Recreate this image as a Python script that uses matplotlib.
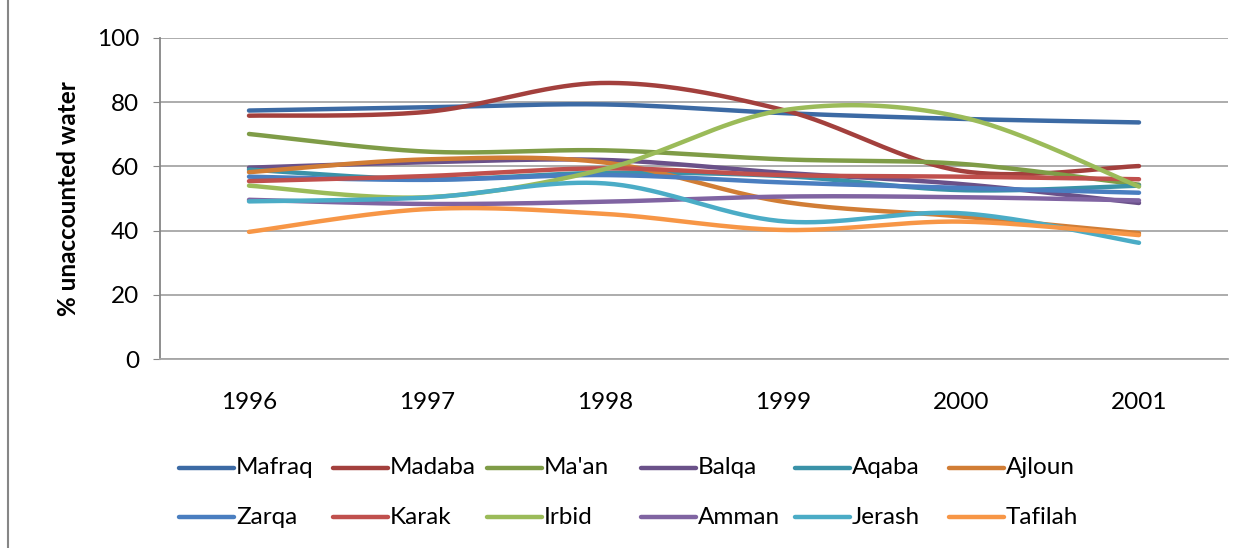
import numpy as np
import matplotlib
matplotlib.use("Agg")
import matplotlib.pyplot as plt
from matplotlib.lines import Line2D

plt.rcParams['font.family'] = ['Lato', 'DejaVu Sans']

years = ["1996", "1997", "1998", "1999", "2000", "2001"]

mafraq = [77.4, 78.4, 79.3, 76.6, 74.8, 73.7]
madaba = [75.8, 77.0, 86.0, 77.6, 58.6, 60.1]
maan = [70.1, 64.6, 65.0, 62.2, 60.8, 54.3]
balqa = [59.6, 61.3, 62.0, 58.0, 54.5, 48.6]
aqaba = [59.0, 56.0, 58.0, 57.0, 52.6, 54.0]
ajloun = [58.2, 62.2, 61.2, 49.0, 44.4, 39.2]
zarqa = [56.8, 55.8, 57.3, 55.0, 53.3, 51.8]
karak = [55.4, 57.0, 59.4, 57.3, 56.8, 56.0]
irbid = [54.0, 50.4, 59.2, 77.5, 75.4, 53.7]
amman = [49.6, 48.3, 49.0, 50.6, 50.4, 49.4]
jerash = [49.1, 50.3, 54.7, 42.9, 45.4, 36.2]
tafilah = [39.6, 46.7, 45.2, 40.2, 42.8, 38.6]

names = ["Mafraq", "Madaba", "Ma'an", "Balqa", "Aqaba", "Ajloun",
         "Zarqa", "Karak", "Irbid", "Amman", "Jerash", "Tafilah"]
series = [mafraq, madaba, maan, balqa, aqaba, ajloun,
          zarqa, karak, irbid, amman, jerash, tafilah]
colors = ["#3C6AA4", "#A3403D", "#7F9C47", "#6A5189", "#3A92A8", "#D17D35",
          "#4A7EC0", "#C0504D", "#9BBB59", "#8064A2", "#4BACC6", "#F79646"]

W, H = 1254, 548


def smooth(y, n=40):
    # excel-like smoothed line (bezier with catmull-rom control points)
    x = np.arange(len(y), dtype=float)
    y = np.asarray(y, dtype=float)
    px = np.concatenate([[x[0]], x, [x[-1]]])
    py = np.concatenate([[y[0]], y, [y[-1]]])
    xs, ys = [], []
    t = np.linspace(0, 1, n)
    for i in range(len(y) - 1):
        p0 = np.array([px[i + 1], py[i + 1]])
        p3 = np.array([px[i + 2], py[i + 2]])
        c1 = p0 + (np.array([px[i + 2], py[i + 2]]) - np.array([px[i], py[i]])) / 6
        c2 = p3 - (np.array([px[i + 3], py[i + 3]]) - np.array([px[i + 1], py[i + 1]])) / 6
        b = ((1 - t) ** 3)[:, None] * p0 + (3 * (1 - t) ** 2 * t)[:, None] * c1 \
            + (3 * (1 - t) * t ** 2)[:, None] * c2 + (t ** 3)[:, None] * p3
        xs.append(b[:, 0])
        ys.append(b[:, 1])
    return np.concatenate(xs), np.concatenate(ys)


fig = plt.figure(figsize=(W / 100, H / 100), dpi=100)
ax = fig.add_axes([160 / W, 1 - 359 / H, 1068 / W, 321 / H])

for vals, name, c in zip(series, names, colors):
    sx, sy = smooth(vals)
    ax.plot(sx, sy, color=c, linewidth=3.2, solid_capstyle='round', label=name)

ax.set_xlim(-0.5, len(years) - 0.5)
ax.set_ylim(0, 100)
ax.set_yticks(range(0, 101, 20))
ax.set_xticks(range(len(years)))
ax.set_xticklabels(years)
ax.tick_params(axis='x', length=0, pad=24, labelsize=17.5)
ax.tick_params(axis='y', length=5, color='#868686', pad=10, labelsize=17.5)
ax.yaxis.grid(True, color='#A6A6A6', linewidth=1.3)
ax.set_axisbelow(True)
for s in ['top', 'right']:
    ax.spines[s].set_visible(False)
ax.spines['left'].set_color('#868686')
ax.spines['bottom'].set_color('#A6A6A6')
ax.spines['left'].set_linewidth(1.3)
ax.spines['bottom'].set_linewidth(1.3)
ax.set_ylabel("% unaccounted water", fontsize=17.5, fontweight='bold', labelpad=12)

# legend drawn on a fixed grid, 6 equal columns x 2 rows like excel
for i, (name, c) in enumerate(zip(names, colors)):
    row, col = divmod(i, 6)
    x0 = 179 + col * 154
    y0 = 468 + row * 49
    fig.add_artist(Line2D([x0 / W, (x0 + 55) / W], [1 - y0 / H, 1 - y0 / H],
                          color=c, linewidth=3.2, solid_capstyle='round',
                          transform=fig.transFigure))
    fig.text((x0 + 57) / W, 1 - y0 / H, name, fontsize=17.5, va='center', ha='left')

# chart area border (left edge visible)
fig.add_artist(Line2D([8 / W, 8 / W], [0, 1], color='#868686', linewidth=1.5,
                      transform=fig.transFigure))

fig.savefig("out.png", dpi=100)
